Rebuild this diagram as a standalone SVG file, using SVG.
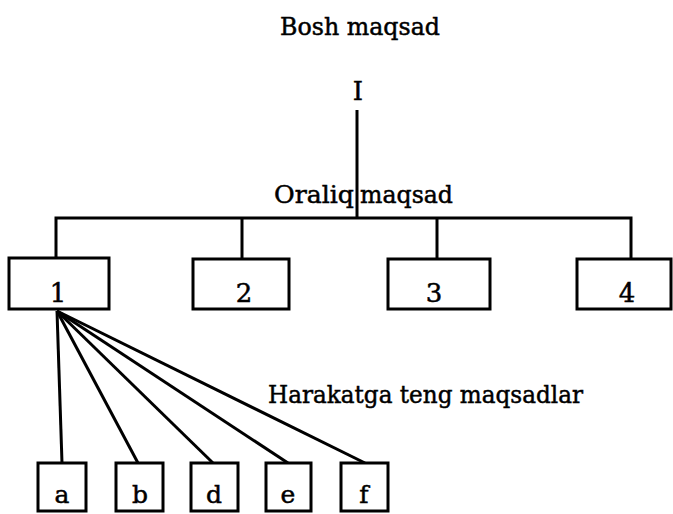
<svg xmlns="http://www.w3.org/2000/svg" width="673" height="514" viewBox="0 0 673 514">
<style>
.bg{fill:#fff}
.box{fill:#fff;stroke:#000;stroke-width:3}
.ln{fill:none;stroke:#000;stroke-width:3;stroke-linecap:butt}
.t{font-family:"DejaVu Serif","Liberation Serif",serif;fill:#000;stroke:#000;stroke-width:0.5;font-size:25px}
.n{font-family:"DejaVu Serif","Liberation Serif",serif;fill:#000;stroke:#000;stroke-width:0.5;font-size:26px;text-anchor:middle}
.s{font-family:"DejaVu Serif","Liberation Serif",serif;fill:#000;stroke:#000;stroke-width:0.5;font-size:25px;text-anchor:middle}
</style>
<rect class="bg" x="0" y="0" width="673" height="514"/>
<text class="t" x="280" y="35" textLength="160" lengthAdjust="spacingAndGlyphs">Bosh maqsad</text>
<text class="t" x="274" y="203" textLength="80" lengthAdjust="spacingAndGlyphs">Oraliq</text>
<text class="t" x="360" y="203" textLength="93" lengthAdjust="spacingAndGlyphs">maqsad</text>
<text class="t" x="268" y="403" textLength="315" lengthAdjust="spacingAndGlyphs">Harakatga teng maqsadlar</text>
<g id="connectors">
<line class="ln" x1="357" y1="110" x2="357" y2="218"/>
<polyline class="ln" points="56,258 56,218 631,218 631,258"/>
<line class="ln" x1="242" y1="218" x2="242" y2="259"/>
<line class="ln" x1="437" y1="218" x2="437" y2="259"/>
<line class="ln" x1="57" y1="311" x2="62" y2="463"/>
<line class="ln" x1="57" y1="311" x2="138" y2="463"/>
<line class="ln" x1="57" y1="311" x2="213" y2="463"/>
<line class="ln" x1="57" y1="311" x2="288" y2="463"/>
<line class="ln" x1="57" y1="311" x2="365" y2="463"/>
</g>
<g id="node-I"><text class="n" x="358" y="100">I</text></g>
<g id="node-1"><rect class="box" x="9" y="258" width="100" height="51"/><text class="n" x="58" y="302">1</text></g>
<g id="node-2"><rect class="box" x="193" y="259" width="96" height="50"/><text class="n" x="244" y="302">2</text></g>
<g id="node-3"><rect class="box" x="388" y="259" width="102" height="50"/><text class="n" x="434" y="302">3</text></g>
<g id="node-4"><rect class="box" x="577" y="259" width="94" height="50"/><text class="n" x="627" y="302">4</text></g>
<g id="node-a"><rect class="box" x="38" y="463" width="48" height="48"/><text class="s" x="62" y="503">a</text></g>
<g id="node-b"><rect class="box" x="116" y="463" width="47" height="48"/><text class="s" x="140" y="503">b</text></g>
<g id="node-d"><rect class="box" x="191" y="463" width="47" height="48"/><text class="s" x="214" y="503">d</text></g>
<g id="node-e"><rect class="box" x="266" y="463" width="45" height="48"/><text class="s" x="288" y="503">e</text></g>
<g id="node-f"><rect class="box" x="341" y="463" width="47" height="48"/><text class="s" x="364" y="503">f</text></g>
</svg>
